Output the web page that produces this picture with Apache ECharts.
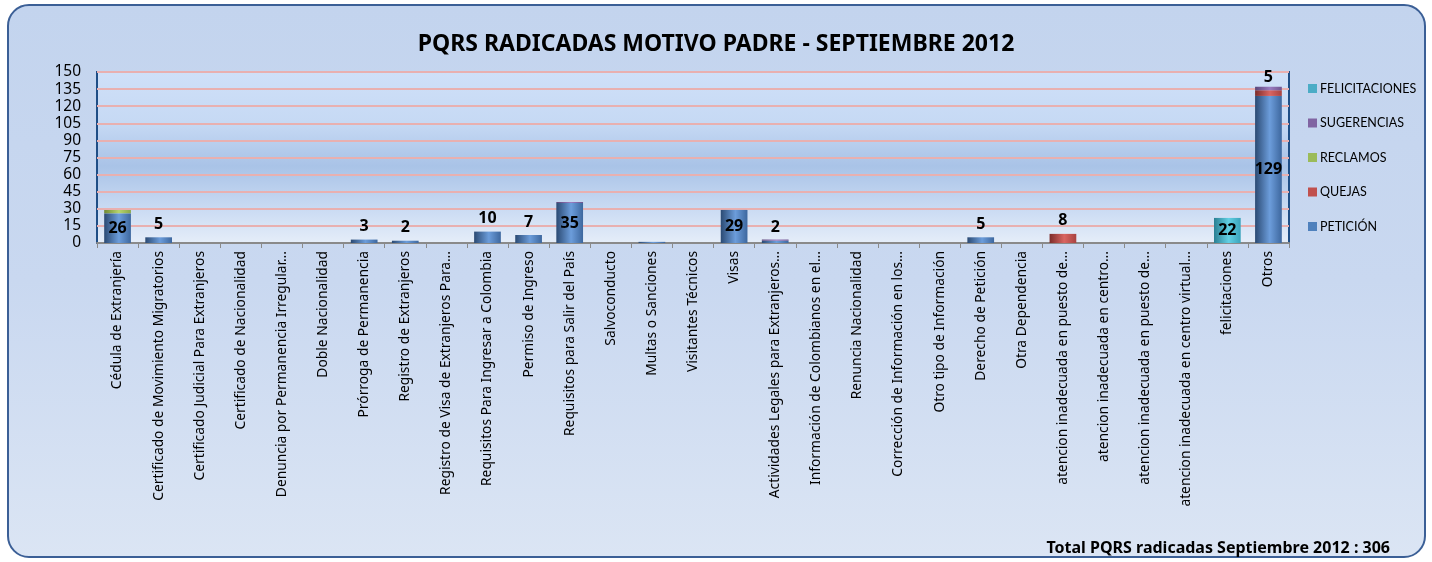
<!DOCTYPE html>
<html>
<head>
<meta charset="utf-8">
<script src="https://cdn.jsdelivr.net/npm/echarts@6/dist/echarts.min.js"></script>
<style>
  html, body { margin: 0; padding: 0; background: #fff; }
  .wrap { position: relative; width: 1432px; height: 562px; }
  .frame {
    position: absolute; left: 7px; top: 4px; width: 1415px; height: 550px;
    border: 2px solid #3b5f96; border-radius: 22px;
    background: linear-gradient(to bottom, #c3d4ee 0%, #c9d8f0 50%, #dbe5f4 100%);
  }
  #chart { position: absolute; left: 0; top: 0; width: 1432px; height: 562px; }
</style>
</head>
<body>
<div class="wrap">
  <div class="frame"></div>
  <div id="chart"></div>
</div>
<script>
// categorias (texto tal como aparece en el eje, ya recortado)
const categorias = [
  'Cédula de Extranjería',
  'Certificado de Movimiento Migratorios',
  'Certificado Judicial Para Extranjeros',
  'Certificado de Nacionalidad',
  'Denuncia por Permanencia Irregular…',
  'Doble Nacionalidad',
  'Prórroga de Permanencia',
  'Registro de Extranjeros',
  'Registro de Visa de Extranjeros Para…',
  'Requisitos Para Ingresar a Colombia',
  'Permiso de Ingreso',
  'Requisitos para Salir del País',
  'Salvoconducto',
  'Multas o Sanciones',
  'Visitantes Técnicos',
  'Visas',
  'Actividades Legales para Extranjeros…',
  'Información de Colombianos en el…',
  'Renuncia Nacionalidad',
  'Corrección de Información en los…',
  'Otro tipo de Información',
  'Derecho de Petición',
  'Otra Dependencia',
  'atencion inadecuada en puesto de…',
  'atencion inadecuada en centro…',
  'atencion inadecuada en puesto de…',
  'atencion inadecuada en centro virtual…',
  'felicitaciones',
  'Otros'
];

const peticion       = [26, 5, 0, 0, 0, 0, 3, 2, 0, 10, 7, 35, 0, 1, 0, 29, 2, 0, 0, 0, 0, 5, 0, 0, 0, 0, 0, 0, 129];
const quejas         = [0, 0, 0, 0, 0, 0, 0, 0, 0, 0, 0, 0, 0, 0, 0, 0, 0, 0, 0, 0, 0, 0, 0, 8, 0, 0, 0, 0, 5];
const reclamos       = [3, 0, 0, 0, 0, 0, 0, 0, 0, 0, 0, 0, 0, 0, 0, 0, 0, 0, 0, 0, 0, 0, 0, 0, 0, 0, 0, 0, 0];
const sugerencias    = [0, 0, 0, 0, 0, 0, 0, 0, 0, 0, 0, 1, 0, 0, 0, 0, 1, 0, 0, 0, 0, 0, 0, 0, 0, 0, 0, 0, 3];
const felicitaciones = [0, 0, 0, 0, 0, 0, 0, 0, 0, 0, 0, 0, 0, 0, 0, 0, 0, 0, 0, 0, 0, 0, 0, 0, 0, 0, 0, 22, 0];

const yTicks = { min: 0, max: 150, interval: 15 };
const totalTexto = 'Total PQRS radicadas Septiembre 2012 : 306';

const FONT = '"Noto Sans", sans-serif';
const FONT_LEYENDA = 'Lato, sans-serif';

// degradado tipo cilindro
const cilindro = (oscuro, claro, medio) => new echarts.graphic.LinearGradient(0, 0, 1, 0, [
  { offset: 0, color: oscuro },
  { offset: 0.55, color: claro },
  { offset: 1, color: medio }
]);

const etiqueta = (minimo) => ({
  show: true,
  fontFamily: FONT,
  fontWeight: 'bold',
  fontSize: 16,
  color: '#000',
  formatter: (p) => (p.value >= minimo ? p.value : '')
});

const serieBase = (nombre, datos, plano, oscuro, claro, medio) => ({
  name: nombre,
  type: 'bar',
  stack: 'total',
  barWidth: '65%',
  data: datos,
  color: plano,
  itemStyle: { color: cilindro(oscuro, claro, medio) }
});

const conEtiquetas = (serie, umbralDentro) => {
  serie.data = serie.data.map((v) => ({
    value: v,
    label: Object.assign(etiqueta(2), { position: v >= umbralDentro ? 'inside' : 'top' })
  }));
  return serie;
};

const chart = echarts.init(document.getElementById('chart'), null, { renderer: 'canvas' });

const option = {
  backgroundColor: 'transparent',
  textStyle: { fontFamily: FONT },
  title: {
    text: 'PQRS RADICADAS MOTIVO PADRE - SEPTIEMBRE 2012',
    left: 'center',
    top: 28,
    textStyle: { fontFamily: FONT, fontSize: 23, fontWeight: 'bold', color: '#000' }
  },
  legend: {
    orient: 'vertical',
    left: 1303,
    top: 77,
    itemGap: 21.5,
    itemWidth: 9,
    itemHeight: 9,
    icon: 'rect',
    textStyle: { fontFamily: FONT_LEYENDA, fontSize: 12.5, color: '#000', padding: [0, 0, 0, -2] },
    data: [
      { name: 'FELICITACIONES', itemStyle: { color: '#4bacc6' } },
      { name: 'SUGERENCIAS', itemStyle: { color: '#8064a2' } },
      { name: 'RECLAMOS', itemStyle: { color: '#9bbb59' } },
      { name: 'QUEJAS', itemStyle: { color: '#c0504d' } },
      { name: 'PETICIÓN', itemStyle: { color: '#4f81bd' } }
    ]
  },
  grid: {
    left: 97,
    right: 143,
    top: 72,
    bottom: 319,
    show: true,
    borderColor: '#1f4e86',
    borderWidth: 2,
    backgroundColor: new echarts.graphic.LinearGradient(0, 0, 0, 1, [
      { offset: 0, color: '#cfe0f8' },
      { offset: 0.3, color: '#c6d9f4' },
      { offset: 0.55, color: '#a9c3e7' },
      { offset: 0.8, color: '#cadbf3' },
      { offset: 1, color: '#e6eef9' }
    ])
  },
  xAxis: {
    type: 'category',
    data: categorias,
    axisLine: { show: true, lineStyle: { color: '#8a8a8a', width: 2 } },
    axisTick: { show: true, length: 5, lineStyle: { color: '#8a8a8a' } },
    axisLabel: {
      interval: 0,
      rotate: 90,
      fontFamily: FONT,
      fontSize: 13.8,
      color: '#000',
      margin: 8,
      width: 300,
      overflow: 'truncate'
    }
  },
  yAxis: {
    type: 'value',
    min: yTicks.min,
    max: yTicks.max,
    interval: yTicks.interval,
    axisLine: { show: false },
    axisTick: { show: false },
    axisLabel: { fontFamily: FONT, fontSize: 15.5, color: '#000', margin: 16 },
    splitLine: { lineStyle: { color: '#e8b0b0', width: 2 } }
  },
  series: [
    conEtiquetas(serieBase('PETICIÓN', peticion, '#4f81bd', '#2b4a73', '#6c9ddb', '#3d679e'), 20),
    conEtiquetas(serieBase('QUEJAS', quejas, '#c0504d', '#7d2c2a', '#d96562', '#a84240'), 20),
    serieBase('RECLAMOS', reclamos, '#9bbb59', '#6f8a35', '#b6d46e', '#89a84a'),
    serieBase('SUGERENCIAS', sugerencias, '#8064a2', '#5a4578', '#9a7cc0', '#6f5590'),
    conEtiquetas(serieBase('FELICITACIONES', felicitaciones, '#4bacc6', '#2a7f93', '#62d0e4', '#3aa3bb'), 20)
  ],
  graphic: [
    {
      type: 'text',
      right: 42,
      top: 540,
      style: {
        text: totalTexto,
        fontFamily: FONT,
        fontSize: 16,
        fontWeight: 'bold',
        fill: '#000'
      }
    }
  ]
};

chart.setOption(option);
</script>
</body>
</html>
